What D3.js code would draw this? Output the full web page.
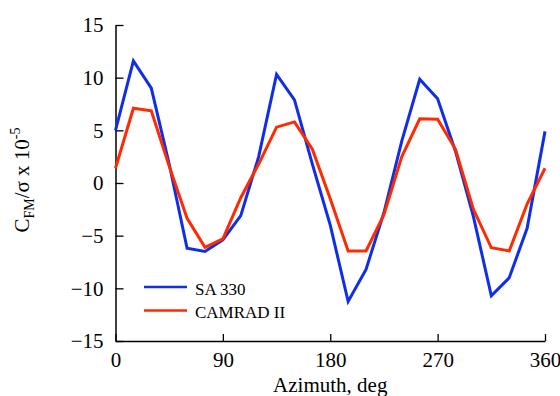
<!DOCTYPE html>
<html>
<head>
<meta charset="utf-8">
<script src="https://cdn.jsdelivr.net/npm/d3@7/dist/d3.min.js"></script>
</head>
<body style="margin:0;background:#fff">
<svg id="chart" width="560" height="396"></svg>
<script>
// Azimuth stations (deg)
const azimuth = [0, 15, 30, 45, 60, 75, 90, 105, 120, 135, 150, 165, 180,
                 195, 210, 225, 240, 255, 270, 285, 300, 315, 330, 345, 360];
// C_FM / sigma x 1e-5, flight test
const sa330 = [5.0, 11.6, 9.0, 1.8, -6.2, -6.5, -5.4, -3.1, 2.5, 10.3, 7.9, 1.8, -4.0,
               -11.25, -8.2, -2.8, 4.0, 9.85, 8.0, 3.0, -3.2, -10.7, -9.0, -4.3, 4.9];
// C_FM / sigma x 1e-5, analysis
const camrad = [1.4, 7.1, 6.85, 1.6, -3.35, -6.1, -5.3, -1.4, 1.8, 5.3, 5.8, 3.2, -1.5,
                -6.45, -6.45, -3.0, 2.5, 6.1, 6.05, 3.2, -2.5, -6.15, -6.45, -2.0, 1.4];

const xTicks = [0, 90, 180, 270, 360];
const yTicks = [-15, -10, -5, 0, 5, 10, 15];

const seriesNames = ["SA 330", "CAMRAD II"];
const seriesColors = ["#0f2ee6", "#ff2a00"];

const SERIF = "'Liberation Serif'";
const svg = d3.select("#chart");

const x = d3.scaleLinear().domain([0, 360]).range([115.5, 545]);
const y = d3.scaleLinear().domain([-15, 15]).range([341, 25]);

// Axes: ticks point inward
const yAxis = d3.axisLeft(y).tickValues(yTicks).tickSizeInner(-8).tickSizeOuter(0)
  .tickPadding(12).tickFormat(d3.format("d"));
const xAxis = d3.axisBottom(x).tickValues(xTicks).tickSizeInner(-7).tickSizeOuter(0)
  .tickPadding(11).tickFormat(d3.format("d"));

const gy = svg.append("g").attr("transform", `translate(${x(0)},0)`).call(yAxis);
const gx = svg.append("g").attr("transform", `translate(0,${y(-15)})`).call(xAxis);

[gx, gy].forEach(g => {
  g.attr("font-family", null).attr("font-size", null);
  g.select(".domain").attr("stroke", "#000").attr("stroke-width", 1.5);
  g.selectAll(".tick line").attr("stroke", "#000").attr("stroke-width", 1.3);
  g.selectAll(".tick text")
    .style("font-family", SERIF).style("font-size", "21px").attr("fill", "#000");
});

// Data lines
const line = d3.line().x((d, i) => x(azimuth[i])).y(d => y(d));
[sa330, camrad].forEach((vals, k) => {
  svg.append("path")
    .datum(vals)
    .attr("d", line)
    .attr("fill", "none")
    .attr("stroke", seriesColors[k])
    .attr("stroke-width", 3)
    .attr("stroke-linejoin", "miter");
});

// Axis titles
svg.append("text")
  .attr("x", x(180))
  .attr("y", 392)
  .attr("text-anchor", "middle")
  .style("font-family", SERIF).style("font-size", "21px")
  .text("Azimuth, deg");

const yt = svg.append("text")
  .attr("transform", `translate(28.5,180) rotate(-90)`)
  .attr("text-anchor", "middle")
  .style("font-family", SERIF).style("font-size", "21px");
yt.append("tspan").text("C");
yt.append("tspan").style("font-size", "14px").attr("dy", 5).text("FM");
yt.append("tspan").attr("dy", -5).text("/σ x 10");
yt.append("tspan").style("font-size", "14px").attr("dy", -9).text("-5");

// Legend
const legend = svg.append("g").attr("transform", "translate(144,287)");
seriesNames.forEach((name, k) => {
  const row = legend.append("g").attr("transform", `translate(0,${k * 23.5})`);
  row.append("line")
    .attr("x1", 0).attr("x2", 43).attr("y1", 0).attr("y2", 0)
    .attr("stroke", seriesColors[k]).attr("stroke-width", 2.5);
  row.append("text")
    .attr("x", 51).attr("y", 7.5)
    .style("font-family", SERIF).style("font-size", "17px")
    .text(name);
});
</script>
</body>
</html>
